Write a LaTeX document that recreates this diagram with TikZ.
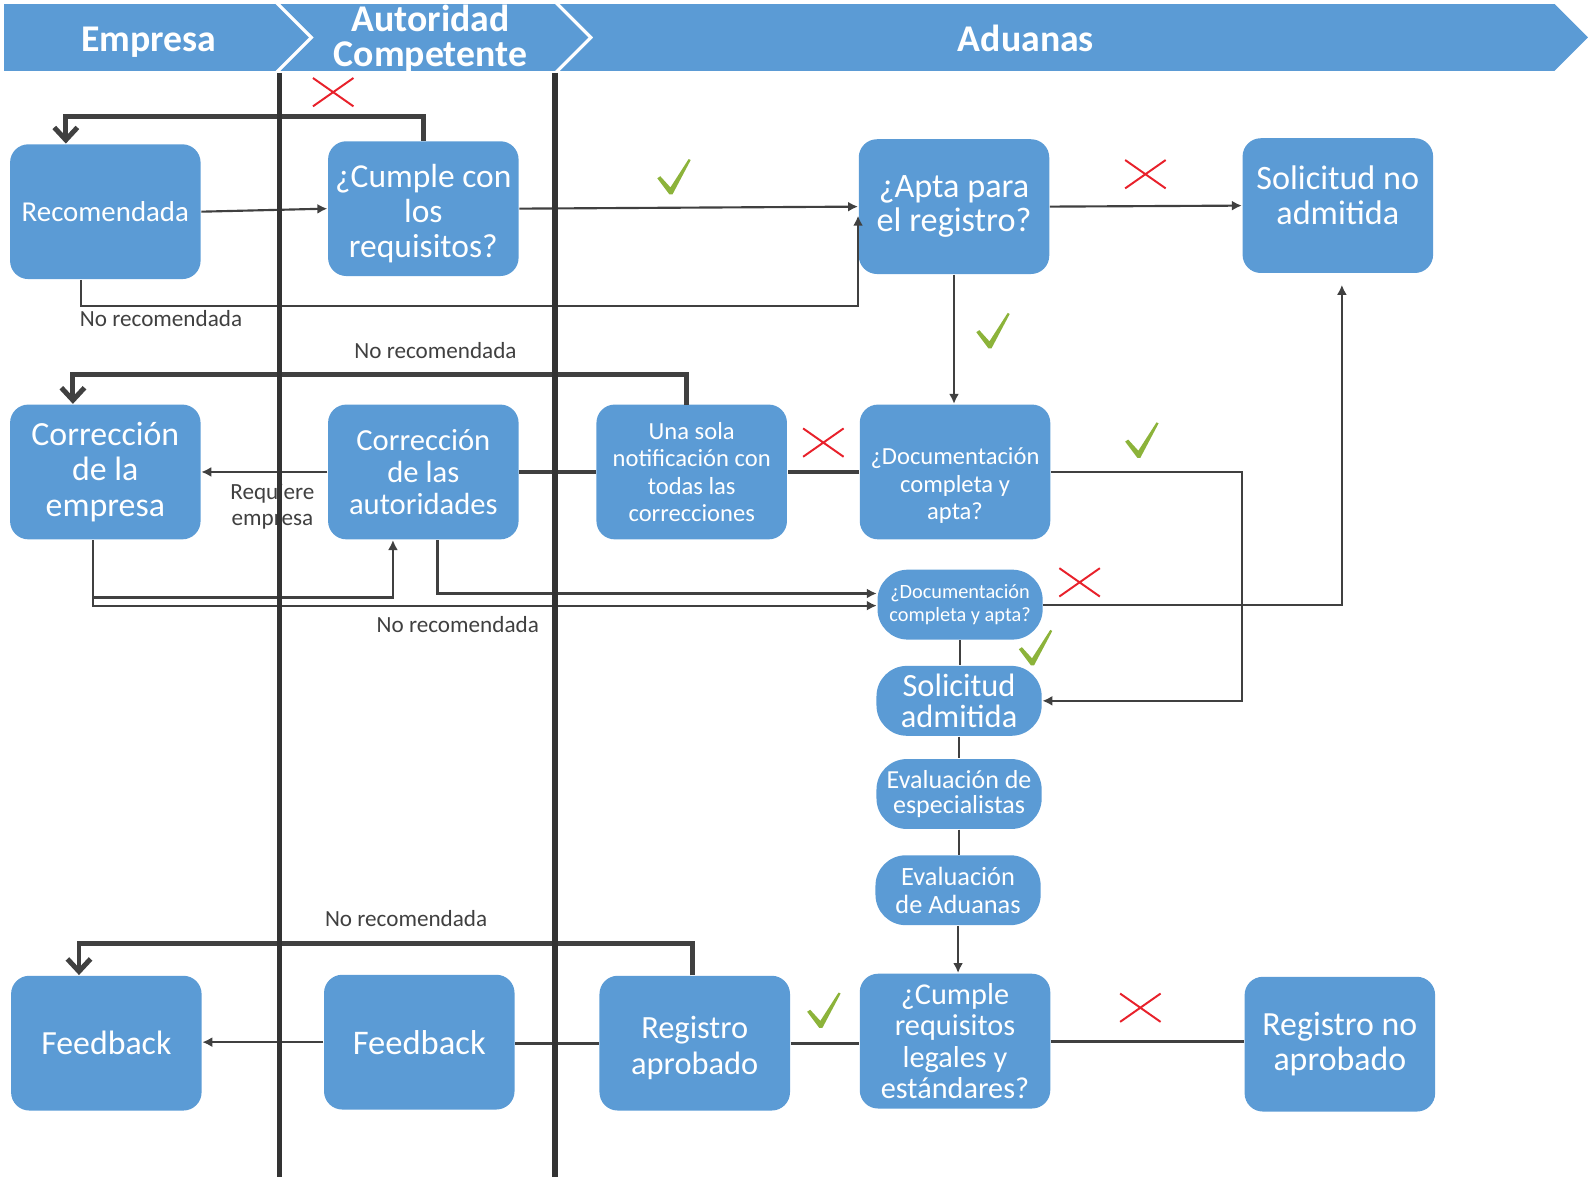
\documentclass[tikz,border=0pt]{standalone}
\usepackage{fontspec}
\setmainfont{Carlito}
\usepackage{tikz}
\usetikzlibrary{arrows.meta}
\definecolor{boxblue}{HTML}{5B9BD5}
\definecolor{linegray}{HTML}{404040}
\definecolor{lanegray}{HTML}{333333}
\definecolor{okgreen}{HTML}{8CB33A}
\definecolor{nored}{HTML}{E8212B}
\newcommand\setfs[2]{\fontsize{#1pt}{#2pt}\selectfont}
\newcommand\upstrut[1]{\rule{0pt}{#1pt}}
\newcommand\downstrut[1]{\rule[-#1pt]{0pt}{#1pt}}
\def\chk(#1,#2){\fill[okgreen,shift={(#1,#2)}] (-16,1) -- (-13,-1) -- (-3,10) -- (15,-18) -- (17,-17) -- (-1,17) -- (-4,17) -- cycle;}
\def\crs(#1,#2){\draw[nored,line width=0.55pt,shift={(#1,#2)}] (-20,-14) -- (20,14) (-20,14) -- (20,-14);}
\tikzset{
  box/.style={fill=boxblue, rounded corners=0.18cm, minimum width=1.88cm, minimum height=1.33cm, text=white, align=center, inner sep=1pt},
  oval/.style={fill=boxblue, rounded corners=0.3cm, minimum width=1.63cm, minimum height=0.69cm, text=white, align=center, inner sep=1pt},
  lane/.style={line width=1.5pt, draw=lanegray},
  conn/.style={line width=0.6pt, draw=linegray},
  midconn/.style={line width=0.9pt, draw=linegray},
  arr/.style={conn, -{Latex[length=2.8pt,width=2.8pt]}},
  back/.style={line width=1.4pt, draw=linegray, -{Straight Barb[length=3.5pt,width=6.5pt]}},
  lbl/.style={text=linegray, align=center, font=\setfs{6.5}{7.1}},
  head/.style={text=white, align=center, font=\bfseries\setfs{10.6}{9.8}}
}
\begin{document}
\begin{tikzpicture}[x=0.01cm, y=-0.01cm]
	%%%%% START %%%%%
	\useasboundingbox (0,0) rectangle (1568,1162);
	
	% lane headers
	\fill[boxblue] (4,4) -- (272,4) -- (305,37) -- (272,70) -- (4,70) -- cycle;
	\fill[boxblue] (277,4) -- (548,4) -- (581,37) -- (548,70) -- (277,70) -- (310,37) -- cycle;
	\fill[boxblue] (553,4) -- (1535,4) -- (1568,37) -- (1535,70) -- (553,70) -- (586,37) -- cycle;
	\node[head] (hemp) at (147,42) {Empresa};
	\node[head] (haut) at (425,38) {Autoridad\\Competente};
	\node[head] (hadu) at (1013,38) {Aduanas};
	
	% first row
	\node[box, font=\setfs{8.1}{9}] (rec) at (104,209) {Recomendada};
	\node[box, font=\setfs{9.4}{9.7}] (cum) at (418,206) {\upstrut{9.3}¿Cumple con\\los\\requisitos?};
	\node[box, font=\setfs{9.6}{9.7}] (apt) at (942,204) {¿Apta para\\el registro?};
	\node[box, font=\setfs{9.6}{9.7}] (sna) at (1321,203) {Solicitud no\\admitida\downstrut{6}};
	
	% second row
	\node[box, font=\setfs{9.5}{10}] (cem) at (104,466) {Corrección\\de la\\empresa};
	\node[box, font=\setfs{8.6}{8.9}] (cau) at (418,466) {Corrección\\de las\\autoridades};
	\node[box, font=\setfs{6.9}{7.7}] (una) at (683,466) {Una sola\\notificación con\\todas las\\correcciones};
	\node[box, font=\setfs{6.9}{7.7}] (dbx) at (943,466) {\upstrut{12.5}¿Documentación\\completa y\\apta?};
	
	% ovals
	\node[oval, font=\setfs{5.7}{6.3}] (dcs) at (948,597) {¿Documentación\\completa y apta?};
	\node[oval, font=\setfs{9.1}{8.8}] (sad) at (947,692) {Solicitud\\admitida};
	\node[oval, font=\setfs{7.3}{7.1}] (esp) at (947,784) {Evaluación de\\especialistas};
	\node[oval, font=\setfs{7.4}{8}] (ead) at (946,879) {Evaluación\\de Aduanas};
	
	% last row
	\node[box, font=\setfs{9.5}{9.7}] (fbl) at (105,1030) {Feedback};
	\node[box, font=\setfs{9.7}{9.7}] (fbm) at (414,1029) {Feedback};
	\node[box, font=\setfs{9.1}{10}] (rap) at (686,1030) {\upstrut{9}Registro\\aprobado};
	\node[box, font=\setfs{8.5}{8.8}] (cle) at (943,1028) {¿Cumple\\requisitos\\legales y\\estándares?};
	\node[box, font=\setfs{9.5}{9.7}] (rna) at (1323,1031) {Registro no\\aprobado};
	
	% corner points
	\coordinate (a1) at (65,115);
	\coordinate (a2) at (80,302);
	\coordinate (b1) at (72,370);
	\coordinate (c1) at (92,590);
	\coordinate (c2) at (388,590);
	\coordinate (c3) at (92,598);
	\coordinate (c4) at (432,586);
	\coordinate (d1) at (1226,692);
	\coordinate (d2) at (1325,597);
	\coordinate (f1) at (78,932);
	
	% connectors
	\draw[arr] (rec.east) -- (cum.west);
	\draw[arr] (cum.east) -- (apt.west);
	\draw[back] (cum.north) |- (a1) -- (a1 |- rec.north);
	\draw[arr] (a2 |- rec.south) -- (a2) -| ([yshift=-0.09cm]apt.west);
	\draw[arr] (apt.east) -- (sna.west);
	\draw[arr] (apt.south) -- (apt.south |- dbx.north);
	
	\draw[midconn] (dbx.west) -- (una.east);
	\draw[midconn] (una.west) -- (cau.east);
	\draw[arr] (cau.west) -- (cem.east);
	\draw[back] (678,400) |- (b1) -- (b1 |- cem.north);
	\draw[arr] (c1 |- cem.south) -- (c1) -- (c2) -- (c2 |- cau.south);
	\draw[arr] (c3 |- cem.south) -- (c3) -- (c3 -| dcs.west);
	\draw[arr] (c4 |- cau.south) -- (c4) -- (c4 -| dcs.west);
	\draw[arr] (dbx.east) -| (d1) -- (sad.east);
	\draw[arr, shorten >=0.11cm] (dcs.east) -- (d2) -- (d2 |- sna.south);
	
	\draw[conn] (dcs.south) -- (dcs.south |- sad.north);
	\draw[conn] (sad.south) -- (esp.north);
	\draw[conn] (esp.south) -- (esp.south |- ead.north);
	\draw[arr] (ead.south) -- (ead.south |- cle.north);
	
	\draw[midconn] (rap.east) -- (rap.east -| cle.west);
	\draw[midconn] (cle.east) -- (cle.east -| rna.west);
	\draw[midconn] (rap.west) -- (rap.west -| fbm.east);
	\draw[arr] (fbm.west) -- (fbm.west -| fbl.east);
	\draw[back] (684,963) |- (f1) -- (f1 |- fbl.north);
	
	% labels
	\node[lbl] (n1) at (159,315) {No recomendada};
	\node[lbl] (n2) at (430,346) {No recomendada};
	\node[lbl] (n3) at (452,617) {No recomendada};
	\node[lbl] (n4) at (401,907) {No recomendada};
	\node[lbl] (req) at (269,500) {Requiere\\empresa};
	
	% lanes
	\draw[lane] (276,72) -- (276,1162);
	\draw[lane] (548,72) -- (548,1162);
	
	% marks
	\crs(329,91)
	\chk(665,175)
	\crs(1131,172)
	\chk(980,327)
	\crs(813,437)
	\chk(1127,435)
	\crs(1066,575)
	\chk(1022,640)
	\chk(813,998)
	\crs(1126,995)
	%%%%% END %%%%%
\end{tikzpicture}
\end{document}
